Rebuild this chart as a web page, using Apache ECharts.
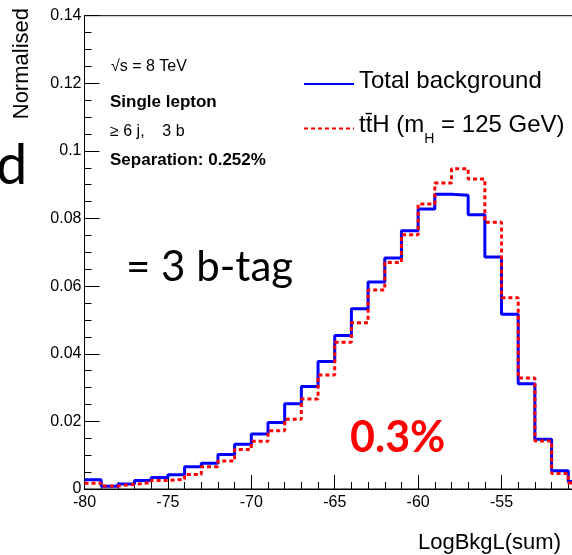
<!DOCTYPE html>
<html>
<head>
<meta charset="utf-8">
<script src="https://cdn.jsdelivr.net/npm/echarts@6/dist/echarts.min.js"></script>
<style>
html,body{margin:0;padding:0;background:#fff;}
#c{width:572px;height:555px;}
</style>
</head>
<body>
<div id="c"></div>
<script>
// ---- data ----
const binWidth = 1;
const binLow = [-80,-79,-78,-77,-76,-75,-74,-73,-72,-71,-70,-69,-68,-67,-66,-65,-64,-63,-62,-61,-60,-59,-58,-57,-56,-55,-54,-53,-52,-51];
const bkg = [0.0027,0.0008,0.0015,0.0025,0.0034,0.0042,0.0066,0.0076,0.0102,0.0132,0.0163,0.0197,0.0252,0.0303,0.0377,0.0454,0.0533,0.0612,0.0683,0.0764,0.0828,0.0872,0.0869,0.0811,0.0686,0.0517,0.0311,0.0147,0.0054,0.0022];
const tth = [0.0017,0.0009,0.0014,0.0019,0.0025,0.0029,0.0043,0.0066,0.0083,0.0117,0.0141,0.0172,0.0206,0.0266,0.0337,0.0434,0.0492,0.0589,0.0670,0.0752,0.0843,0.0905,0.0947,0.0917,0.0789,0.0566,0.0328,0.0142,0.0046,0.0018];
const seriesNames = ['Total background', 'tt\u0304H (mH = 125 GeV)'];
const xRange = [-80, -48];
const yRange = [0, 0.14];

function histData(vals){
  const d = binLow.map((x,i)=>[x, vals[i]]);
  d.push([binLow[binLow.length-1]+binWidth, vals[vals.length-1]]);
  return d;
}

const FONT = '"Liberation Sans", Arial, sans-serif';
const chart = echarts.init(document.getElementById('c'), null, {renderer:'canvas'});
chart.setOption({
  animation:false,
  backgroundColor:'#ffffff',
  grid:{left:84.5, top:15.7, height:473.3, width:533.8, show:true, borderColor:'#000', borderWidth:1, backgroundColor:'transparent', containLabel:false, outerBoundsMode:'none'},
  xAxis:{
    type:'value', min:xRange[0], max:xRange[1], interval:5,
    axisLine:{show:true, onZero:false, lineStyle:{color:'#000', width:1}},
    axisTick:{show:true, inside:true, length:14, lineStyle:{color:'#000'}},
    minorTick:{show:true, splitNumber:5, length:7, lineStyle:{color:'#000'}},
    splitLine:{show:false},
    axisLabel:{color:'#000', fontSize:16, fontFamily:FONT, margin:6}
  },
  yAxis:{
    type:'value', min:yRange[0], max:yRange[1], interval:0.02,
    axisLine:{show:true, lineStyle:{color:'#000', width:1}},
    axisTick:{show:true, inside:true, length:15, lineStyle:{color:'#000'}},
    minorTick:{show:true, splitNumber:4, length:7, lineStyle:{color:'#000'}},
    splitLine:{show:false},
    axisLabel:{color:'#000', fontSize:16, fontFamily:FONT, margin:3}
  },
  legend:{
    orient:'vertical', left:298, top:64, itemWidth:50, itemHeight:10, itemGap:18,
    lineStyle:{width:2},
    itemStyle:{opacity:0},
    textStyle:{color:'#000', fontFamily:FONT, fontSize:24,
      rich:{
        n:{fontSize:24, fontFamily:FONT, color:'#000', lineHeight:30, verticalAlign:'top'},
        s:{fontSize:14, fontFamily:FONT, color:'#000', lineHeight:14, padding:[21,0,0,0]}
      }},
    formatter:function(name){
      if(name===seriesNames[1]) return '{n|tt\u0304H (m}{s|H}{n| = 125 GeV)}';
      return '{n|'+name+'}';
    },
    data:seriesNames
  },
  series:[
    {name:seriesNames[0], type:'line', step:'end', symbol:'none', data:histData(bkg),
     lineStyle:{color:'#0000ff', width:3}, itemStyle:{color:'#0000ff'}},
    {name:seriesNames[1], type:'line', step:'end', symbol:'none', data:histData(tth),
     lineStyle:{color:'#ff0000', width:3, type:[4,3]}, itemStyle:{color:'#ff0000'}}
  ],
  graphic:[
    {type:'text', left:111, top:59, style:{text:'\u221As = 8 TeV', font:'16px '+FONT, fill:'#000'}},
    {type:'text', left:110, top:94, style:{text:'Single lepton', font:'bold 17px '+FONT, fill:'#000'}},
    {type:'text', left:110, top:124, style:{text:'\u2265 6 j,    3 b', font:'16px '+FONT, fill:'#000'}},
    {type:'text', left:110, top:152, style:{text:'Separation: 0.252%', font:'bold 17px '+FONT, fill:'#000'}},
    {type:'text', x:22, y:8, rotation:Math.PI/2, style:{text:'Normalised', font:'22px '+FONT, fill:'#000', align:'right', verticalAlign:'middle'}},
    {type:'text', x:561, y:543, style:{text:'LogBkgL(sum)', font:'22px '+FONT, fill:'#000', align:'right', verticalAlign:'middle'}},
    {type:'text', x:126, y:267, style:{text:'= 3 b-tag', font:'42px Lato, sans-serif', fill:'#000', align:'left', verticalAlign:'middle'}},
    {type:'text', x:350, y:438, style:{text:'0.3%', font:'bold 43px Lato, sans-serif', fill:'#ff0000', align:'left', verticalAlign:'middle'}},
    {type:'text', x:-4, y:166, style:{text:'d', font:'56px Lato, sans-serif', fill:'#000', align:'left', verticalAlign:'middle'}}
  ]
});
</script>
</body>
</html>
